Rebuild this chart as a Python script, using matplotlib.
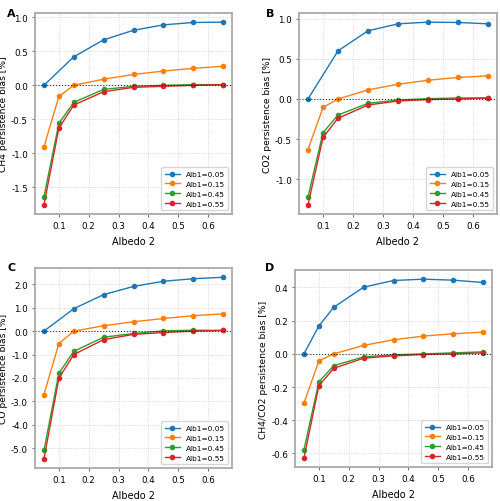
import numpy as np
import matplotlib
matplotlib.use("Agg")
import matplotlib.pyplot as plt

plt.rcParams['axes.unicode_minus'] = False

albedo2 = np.array([0.05, 0.1, 0.15, 0.25, 0.35, 0.45, 0.55, 0.65])
labels = ["Alb1=0.05", "Alb1=0.15", "Alb1=0.45", "Alb1=0.55"]
colors = ["#1f77b4", "#ff7f0e", "#2ca02c", "#d62728"]

# CH4 persistence bias [%]
ch4_005 = [0.0, np.nan, 0.42, 0.67, 0.81, 0.89, 0.925, 0.93]
ch4_015 = [-0.905, -0.163, 0.0, 0.09, 0.16, 0.21, 0.25, 0.28]
ch4_045 = [-1.64, -0.56, -0.25, -0.06, -0.015, 0.0, 0.01, 0.01]
ch4_055 = [-1.76, -0.63, -0.29, -0.094, -0.03, -0.015, 0.0, 0.01]

# CO2 persistence bias [%]
co2_005 = [0.0, np.nan, 0.60, 0.85, 0.937, 0.958, 0.954, 0.937]
co2_015 = [-0.63, -0.105, 0.0, 0.113, 0.184, 0.234, 0.268, 0.289]
co2_045 = [-1.22, -0.42, -0.20, -0.054, -0.013, 0.004, 0.013, 0.013]
co2_055 = [-1.32, -0.48, -0.24, -0.075, -0.025, -0.008, 0.0, 0.012]

# CO persistence bias [%]
co_005 = [0.0, np.nan, 0.96, 1.56, 1.91, 2.13, 2.24, 2.30]
co_015 = [-2.71, -0.53, 0.0, 0.23, 0.40, 0.54, 0.66, 0.74]
co_045 = [-5.09, -1.80, -0.86, -0.26, -0.10, 0.01, 0.04, 0.03]
co_055 = [-5.46, -2.01, -1.0, -0.36, -0.14, -0.06, 0.0, 0.03]

# CH4/CO2 persistence bias [%]
ratio_005 = [0.0, 0.168, 0.281, 0.402, 0.442, 0.45, 0.444, 0.430]
ratio_015 = [-0.297, -0.042, 0.0, 0.051, 0.085, 0.107, 0.121, 0.131]
ratio_045 = [-0.578, -0.168, -0.071, -0.018, -0.006, 0.0, 0.006, 0.012]
ratio_055 = [-0.628, -0.192, -0.087, -0.026, -0.012, -0.004, 0.0, 0.006]

panels = [
    ("A", "CH4 persistence bias [%]", [ch4_005, ch4_015, ch4_045, ch4_055],
     [0.07, 0.5717, 0.394, 0.4004], (0.014, 0.982)),
    ("B", "CO2 persistence bias [%]", [co2_005, co2_015, co2_045, co2_055],
     [0.598, 0.5717, 0.396, 0.4004], (0.532, 0.982)),
    ("C", "CO persistence bias [%]", [co_005, co_015, co_045, co_055],
     [0.07, 0.0657, 0.394, 0.398], (0.014, 0.476)),
    ("D", "CH4/CO2 persistence bias [%]", [ratio_005, ratio_015, ratio_045, ratio_055],
     [0.59, 0.0677, 0.394, 0.392], (0.53, 0.476)),
]

fig = plt.figure(figsize=(5, 5.02), dpi=100)

for letter, ylabel, series, rect, lpos in panels:
    ax = fig.add_axes(rect)
    for y, lab, c in zip(series, labels, colors):
        y = np.array(y, dtype=float)
        ok = ~np.isnan(y)  # skip missing points, keep the line joined
        ax.plot(albedo2[ok], y[ok], marker='o', markersize=3, lw=1, color=c, label=lab)
    ax.axhline(0, color='black', ls=':', lw=0.8, alpha=0.8)
    ax.grid(True, ls=':', lw=0.6, color='#cccccc')
    ax.set_xticks([0.1, 0.2, 0.3, 0.4, 0.5, 0.6])
    ax.yaxis.set_major_formatter(matplotlib.ticker.FormatStrFormatter('%.1f'))
    ax.tick_params(labelsize=6.3, length=2.5, width=0.6, color='#555555', pad=2.5)
    for s in ax.spines.values():
        s.set_color('#aaaaaa')
        s.set_linewidth(1.3)
    ax.set_xlabel("Albedo 2", fontsize=7, labelpad=4)
    ax.set_ylabel(ylabel, fontsize=6.6, labelpad=2)
    ax.legend(loc='lower right', fontsize=5.3, handlelength=2.0, borderpad=0.5,
              labelspacing=0.5, handletextpad=0.8)
    fig.text(lpos[0], lpos[1], letter, fontsize=8, fontweight='bold', va='top')

fig.savefig("out.png", dpi=100)
